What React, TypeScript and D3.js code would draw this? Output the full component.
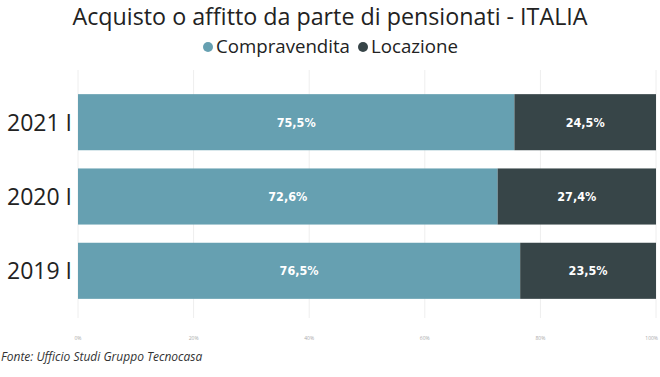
import React from "react";
import * as d3 from "d3";

const categories = ["2021 I", "2020 I", "2019 I"];
const compravendita = [75.5, 72.6, 76.5];
const locazione = [24.5, 27.4, 23.5];
const tickValues = [0, 20, 40, 60, 80, 100];
const seriesNames = ["Compravendita", "Locazione"];
const colors = ["#66a0b1", "#374548"];

const W = 660, H = 377;
const fontMain = "'Open Sans', 'Noto Sans', sans-serif";
const fontVal = "'DejaVu Sans Condensed', Roboto, sans-serif";

export default function App() {
  const x = d3.scaleLinear().domain([0, 100]).range([78, 656]);
  const y = d3.scaleBand().domain(categories).range([57, 336]).paddingInner(0.245).paddingOuter(0.5);
  const fmt = (v: number) => v.toFixed(1).replace(".", ",") + "%";
  const rows = categories.map((c, i) => ({ c, a: compravendita[i], b: locazione[i] }));
  return (
    <svg width={W} height={H} style={{ position: "absolute", left: 0, top: 0, background: "#fff" }}>
      <text x={330} y={25} textAnchor="middle" fontFamily={fontMain} fontSize={23.3} fill="#222" textLength={515} lengthAdjust="spacingAndGlyphs">
        Acquisto o affitto da parte di pensionati - ITALIA
      </text>
      <g fontFamily={fontMain} fontSize={17.5} fill="#222">
        <circle cx={208} cy={47} r={5} fill={colors[0]} />
        <text x={216} y={53} textLength={134} lengthAdjust="spacingAndGlyphs">{seriesNames[0]}</text>
        <circle cx={363} cy={47} r={5} fill={colors[1]} />
        <text x={371} y={53} textLength={87} lengthAdjust="spacingAndGlyphs">{seriesNames[1]}</text>
      </g>
      {tickValues.map((t, i) => (
        <g key={t}>
          <line x1={x(t)} x2={x(t)} y1={70} y2={318} stroke="#eeeeee" strokeWidth={1} />
          <text x={i === tickValues.length - 1 ? x(t) + 2 : x(t)} y={340} textAnchor={i === tickValues.length - 1 ? "end" : "middle"} fontFamily={fontMain} fontSize={5} fill="#aaa">{t}%</text>
        </g>
      ))}
      {rows.map((r) => {
        const y0 = y(r.c)!;
        const h = y.bandwidth();
        return (
          <g key={r.c}>
            <rect x={x(0)} y={y0} width={x(r.a) - x(0)} height={h} fill={colors[0]} />
            <rect x={x(r.a)} y={y0} width={x(r.a + r.b) - x(r.a)} height={h} fill={colors[1]} />
            <text x={(x(0) + x(r.a)) / 2} y={y0 + h / 2 + 4.5} textAnchor="middle" fontFamily={fontVal} fontSize={12.5} fontWeight={600} fill="#fff">{fmt(r.a)}</text>
            <text x={(x(r.a) + x(r.a + r.b)) / 2} y={y0 + h / 2 + 4.5} textAnchor="middle" fontFamily={fontVal} fontSize={12.5} fontWeight={600} fill="#fff">{fmt(r.b)}</text>
            <text x={72} y={y0 + h / 2 + 8.5} textAnchor="end" fontFamily={fontMain} fontSize={23} fill="#222">{r.c}</text>
          </g>
        );
      })}
      <text x={1} y={361} fontFamily={fontMain} fontStyle="italic" fontSize={12} fill="#333">Fonte: Ufficio Studi Gruppo Tecnocasa</text>
    </svg>
  );
}
